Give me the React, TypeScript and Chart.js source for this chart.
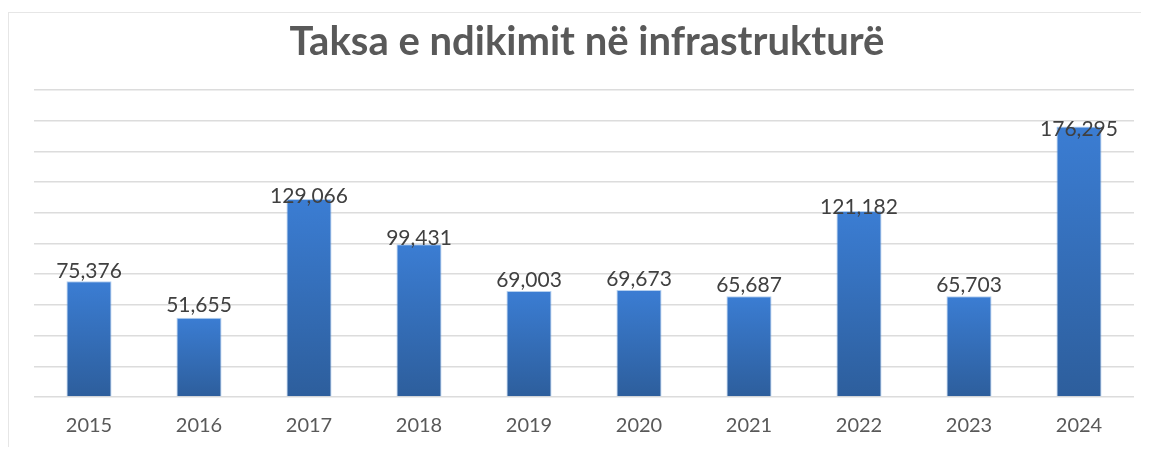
import React, { useEffect, useRef } from "react";
import { Chart, registerables } from "chart.js";

Chart.register(...registerables);

const TITLE = "Taksa e ndikimit në infrastrukturë";
const categories = ["2015", "2016", "2017", "2018", "2019", "2020", "2021", "2022", "2023", "2024"];
const values = [75376, 51655, 129066, 99431, 69003, 69673, 65687, 121182, 65703, 176295];
const yMax = 200000;
const yStep = 20000;

const FONT = "Lato, 'Open Sans', sans-serif";

export default function App() {
  const ref = useRef<HTMLCanvasElement | null>(null);

  useEffect(() => {
    if (!ref.current) return;
    const fmt = (v: number) => v.toLocaleString("en-US");

    const titlePlugin = {
      id: "customTitle",
      afterDraw(chart: any) {
        const ctx = chart.ctx;
        ctx.save();
        ctx.font = `bold 40px ${FONT}`;
        ctx.fillStyle = "#595959";
        ctx.textAlign = "center";
        ctx.textBaseline = "alphabetic";
        ctx.fillText(TITLE, 587 - 9, 55 - 13);
        ctx.restore();
      },
    };

    const labelPlugin = {
      id: "barLabels",
      afterDatasetsDraw(chart: any) {
        const ctx = chart.ctx;
        const meta = chart.getDatasetMeta(0);
        const base = chart.scales.y.getPixelForValue(0);
        ctx.save();
        ctx.font = `21px ${FONT}`;
        ctx.fillStyle = "#404040";
        ctx.textAlign = "center";
        ctx.textBaseline = "alphabetic";
        meta.data.forEach((bar: any, i: number) => {
          const h = base - bar.y;
          const y = base - 12.5 - 0.917 * h;
          ctx.fillText(fmt(values[i]), bar.x, y);
        });
        ctx.restore();
      },
    };

    const chart = new Chart(ref.current, {
      type: "bar",
      data: {
        labels: categories,
        datasets: [
          {
            data: values,
            backgroundColor: (context: any) => {
              const c = context.chart;
              const ys = c.scales && c.scales.y;
              if (!ys || context.raw == null) return "#3a7bd5";
              const top = ys.getPixelForValue(context.raw);
              const bottom = ys.getPixelForValue(0);
              if (!isFinite(top) || !isFinite(bottom) || top === bottom) return "#3a7bd5";
              const g = c.ctx.createLinearGradient(0, top, 0, bottom);
              g.addColorStop(0, "#3b7dd3");
              g.addColorStop(1, "#2d5e9c");
              return g;
            },
            borderColor: "rgba(120,170,225,0.55)",
            borderWidth: 1,
            barPercentage: 0.41,
            categoryPercentage: 1,
          },
        ],
      },
      options: {
        responsive: false,
        animation: false,
        layout: { padding: { left: 25, right: 15, top: 77, bottom: 0 } },
        plugins: {
          legend: { display: false },
          title: { display: false },
          tooltip: { enabled: false },
        },
        scales: {
          x: {
            grid: { display: false, drawTicks: false },
            border: { display: false },
            ticks: {
              color: "#595959",
              font: { family: FONT, size: 20 },
              padding: 17,
            },
            afterFit: (scale: any) => {
              scale.height = 50;
            },
          },
          y: {
            min: 0,
            max: yMax,
            ticks: { display: false, stepSize: yStep },
            grid: { color: "#dcdcdc", lineWidth: 1.5, drawTicks: false },
            border: { display: false },
          },
        },
      },
      plugins: [titlePlugin, labelPlugin],
    });
    return () => chart.destroy();
  }, []);

  return (
    <div style={{ paddingTop: 4 }}>
      <div
        style={{
          borderTop: "1px solid #e6e6e6",
          borderLeft: "1px solid #e6e6e6",
          width: 1140,
          height: 434,
        }}
      >
        <canvas ref={ref} width={1140} height={434} style={{ display: "block" }} />
      </div>
    </div>
  );
}
